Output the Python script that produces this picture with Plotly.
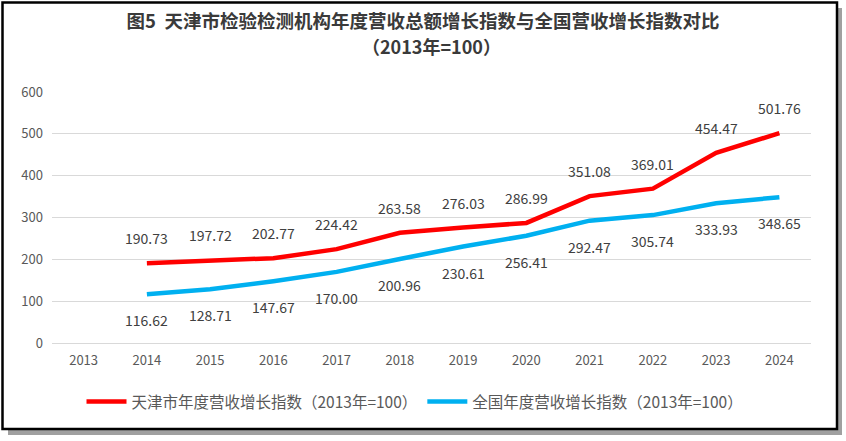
import plotly.graph_objects as go

years = [2013, 2014, 2015, 2016, 2017, 2018, 2019, 2020, 2021, 2022, 2023, 2024]
tianjin = [None, 190.73, 197.72, 202.77, 224.42, 263.58, 276.03, 286.99, 351.08, 369.01, 454.47, 501.76]
national = [None, 116.62, 128.71, 147.67, 170.00, 200.96, 230.61, 256.41, 292.47, 305.74, 333.93, 348.65]
name_tj = "天津市年度营收增长指数（2013年=100）"
name_cn = "全国年度营收增长指数（2013年=100）"
title_line1 = "<b>图5  天津市检验检测机构年度营收总额增长指数与全国营收增长指数对比</b>"
title_line2 = "<b>（2013年=100）</b>"

W, H = 846, 441
L, R, T, B = 52, 35, 92, 98
pw, ph = W - L - R, H - T - B

def px2paper_x(px):
    return (px - L) / pw

def px2paper_y(py):
    return (H - B - py) / ph

cjk = "Noto Sans CJK SC"
fig = go.Figure()
fig.add_trace(go.Scatter(x=years, y=tianjin, mode="lines", name=name_tj,
                         line=dict(color="#FF0000", width=4.5), connectgaps=False))
fig.add_trace(go.Scatter(x=years, y=national, mode="lines", name=name_cn,
                         line=dict(color="#00B0F0", width=4.5), connectgaps=False))

for x, v in zip(years, tianjin):
    if v is not None:
        fig.add_annotation(x=x, y=v, xref="x", yref="y", text=f"{v:.2f}", showarrow=False, yshift=25,
                           font=dict(family=cjk, size=14, color="#404040"))
for x, v in zip(years, national):
    if v is not None:
        fig.add_annotation(x=x, y=v, xref="x", yref="y", text=f"{v:.2f}", showarrow=False, yshift=-26,
                           font=dict(family=cjk, size=14, color="#404040"))

fig.add_annotation(x=0.5, y=px2paper_y(46), xref="paper", yref="paper", text=title_line2,
                   showarrow=False, xanchor="center", yanchor="middle",
                   font=dict(family=cjk, size=18, color="#3a3a3a"))

# frame shadow and frame
fig.add_shape(type="rect", xref="paper", yref="paper", layer="below",
              x0=px2paper_x(8), x1=px2paper_x(842), y0=px2paper_y(8), y1=px2paper_y(435),
              fillcolor="#A0A0A0", line=dict(width=0))
fig.add_shape(type="rect", xref="paper", yref="paper", layer="below",
              x0=px2paper_x(2.5), x1=px2paper_x(837), y0=px2paper_y(2.5), y1=px2paper_y(429),
              fillcolor="white", line=dict(color="black", width=2.5))

fig.update_layout(
    width=W, height=H,
    margin=dict(l=L, r=R, t=T, b=B),
    paper_bgcolor="white", plot_bgcolor="rgba(0,0,0,0)",
    title=dict(text=title_line1, x=0.5, xanchor="center", y=1 - 22 / H, yanchor="middle",
               font=dict(family=cjk, size=18.5, color="#3a3a3a")),
    showlegend=True,
    legend=dict(orientation="h", x=px2paper_x(415), xanchor="center", y=px2paper_y(402), yanchor="middle",
                font=dict(family=cjk, size=15.5, color="#595959"), itemwidth=40,
                bgcolor="rgba(0,0,0,0)"),
    xaxis=dict(range=[years[0] - 0.5, years[-1] + 0.5], tickmode="array",
               tickvals=years, ticktext=[str(y) for y in years],
               showgrid=False, showline=False, ticks="", ticklabelstandoff=8,
               tickfont=dict(family=cjk, size=13, color="#595959"), zeroline=False),
    yaxis=dict(range=[0, 600], dtick=100, showgrid=True, gridcolor="#D9D9D9", gridwidth=1,
               zeroline=True, zerolinecolor="#D9D9D9", zerolinewidth=1, showline=False,
               tickfont=dict(family=cjk, size=13, color="#595959"), ticklabelstandoff=8),
)

fig.write_html("out.html", post_script="document.body.style.margin='0';",
               config={"displayModeBar": False})
